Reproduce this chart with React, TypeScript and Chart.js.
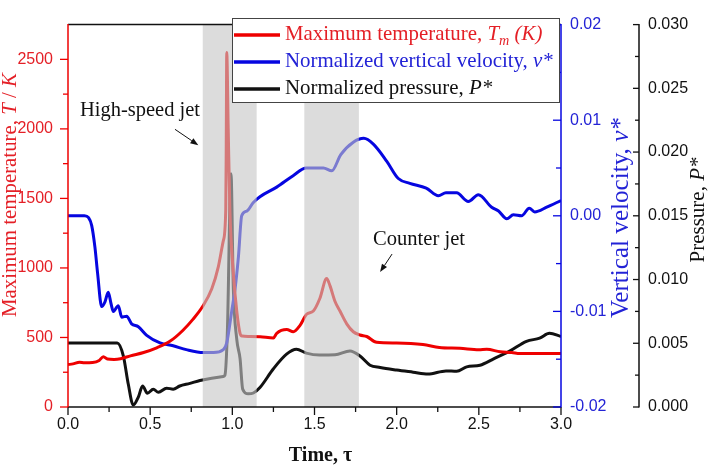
import React, { useEffect, useRef } from 'react';
import { Chart, registerables } from 'chart.js';

Chart.register(...registerables);

// ---------- data ----------
const tauTemp = [0, 0.03, 0.07, 0.1, 0.15, 0.19, 0.215, 0.24, 0.28, 0.32, 0.38, 0.46, 0.54, 0.62, 0.7, 0.76, 0.82, 0.875, 0.915, 0.945, 0.96, 0.963, 0.966, 0.975, 0.985, 1.006, 1.027, 1.047, 1.06, 1.1, 1.17, 1.25, 1.27, 1.331, 1.371, 1.412, 1.452, 1.493, 1.533, 1.574, 1.594, 1.625, 1.655, 1.696, 1.736, 1.777, 1.818, 1.878, 2.0, 2.16, 2.26, 2.385, 2.5, 2.548, 2.63, 2.7, 2.75, 3.0];
const tempK = [305, 310, 322, 318, 320, 335, 362, 345, 342, 347, 368, 392, 426, 472, 552, 630, 724, 850, 1010, 1195, 1420, 1900, 2550, 2000, 1420, 965, 690, 530, 510, 507, 505, 497, 530, 557, 541, 587, 667, 690, 782, 924, 873, 759, 690, 598, 541, 518, 507, 465, 460, 449, 428, 422, 412, 415, 397, 392, 385, 385];

const tauVel = [0, 0.1, 0.125, 0.144, 0.164, 0.18, 0.205, 0.225, 0.245, 0.262, 0.276, 0.306, 0.327, 0.357, 0.387, 0.428, 0.479, 0.56, 0.64, 0.72, 0.824, 0.884, 0.945, 0.966, 0.996, 1.017, 1.037, 1.057, 1.088, 1.128, 1.168, 1.27, 1.37, 1.45, 1.554, 1.605, 1.66, 1.736, 1.8, 1.858, 1.94, 2.01, 2.08, 2.18, 2.254, 2.3, 2.365, 2.436, 2.497, 2.578, 2.62, 2.67, 2.71, 2.76, 2.807, 2.84, 2.913, 3.0];
const velStar = [0, 0, -0.0002, -0.001, -0.0033, -0.006, -0.0095, -0.009, -0.008, -0.0092, -0.01, -0.0094, -0.0106, -0.0105, -0.0113, -0.0116, -0.0125, -0.0133, -0.0136, -0.014, -0.0143, -0.0143, -0.014, -0.0133, -0.01, -0.0076, -0.0043, 0, 0.0005, 0.0014, 0.002, 0.003, 0.0042, 0.005, 0.005, 0.0047, 0.0064, 0.0077, 0.0081, 0.0075, 0.0057, 0.0039, 0.0034, 0.0029, 0.0021, 0.0024, 0.0024, 0.0015, 0.0022, 0.0009, 0.0005, -0.0003, 0.0001, 0, 0.0008, 0.0004, 0.0009, 0.0016];

const tauPres = [0, 0.3, 0.337, 0.367, 0.397, 0.428, 0.454, 0.483, 0.519, 0.55, 0.6, 0.64, 0.68, 0.742, 0.803, 0.945, 0.955, 0.97, 0.992, 1.006, 1.027, 1.047, 1.063, 1.097, 1.128, 1.168, 1.25, 1.33, 1.39, 1.45, 1.53, 1.625, 1.716, 1.777, 1.838, 1.9, 2.0, 2.1, 2.19, 2.3, 2.365, 2.426, 2.507, 2.59, 2.69, 2.79, 2.87, 2.93, 3.0];
const presStar = [0.00503, 0.00503, 0.004, 0.00178, 0.00015, 0.00078, 0.00165, 0.00108, 0.0014, 0.00115, 0.00148, 0.0014, 0.00165, 0.00185, 0.00208, 0.0024, 0.0025, 0.006, 0.0183, 0.0093, 0.0053, 0.0038, 0.0014, 0.00103, 0.0011, 0.00153, 0.003, 0.00415, 0.00453, 0.00423, 0.00408, 0.0041, 0.0044, 0.004, 0.00328, 0.0031, 0.0029, 0.00273, 0.00258, 0.00283, 0.0028, 0.00315, 0.00328, 0.00378, 0.0044, 0.00515, 0.0054, 0.00578, 0.00553];

const bandStart = [0.82, 1.438];
const bandEnd = [1.148, 1.77];

const xMajor = [0, 0.5, 1, 1.5, 2, 2.5, 3];
const tempMajor = [0, 500, 1000, 1500, 2000, 2500];
const velMajor = [-0.02, -0.01, 0, 0.01, 0.02];
const presMajor = [0, 0.005, 0.01, 0.015, 0.02, 0.025, 0.03];

// annotation anchors (data coords: tau, T)
const hsjText = [0.438, 2132];
const hsjArrow = [0.651, 1997, 0.793, 1883];
const cjText = [2.136, 1204];
const cjArrow = [1.972, 1100, 1.899, 970];

// ---------- style ----------
const SERIF = "'Liberation Serif', 'Times New Roman', Times, serif";
const SANS = "'Liberation Sans', Arial, Helvetica, sans-serif";
const RED_LINE = '#ee0000';
const RED_TEXT = '#e41f26';
const BLUE_LINE = '#0606e0';
const BLUE_TEXT = '#2323d6';
const DARK = '#111111';

type Seg = { t: string; it?: boolean; sub?: boolean; bold?: boolean };

function segFont(s: Seg, size: number) {
  const sz = s.sub ? size * 0.68 : size;
  return `${s.it ? 'italic ' : ''}${s.bold ? 'bold ' : ''}${sz}px ${SERIF}`;
}
function segsWidth(ctx: CanvasRenderingContext2D, segs: Seg[], size: number) {
  let w = 0;
  for (const s of segs) {
    ctx.font = segFont(s, size);
    w += ctx.measureText(s.t).width;
  }
  return w;
}
function drawSegs(ctx: CanvasRenderingContext2D, segs: Seg[], x: number, y: number, size: number, color: string) {
  ctx.fillStyle = color;
  ctx.textBaseline = 'middle';
  ctx.textAlign = 'left';
  let cx = x;
  for (const s of segs) {
    ctx.font = segFont(s, size);
    ctx.fillText(s.t, cx, s.sub ? y + size * 0.3 : y);
    cx += ctx.measureText(s.t).width;
  }
}
function fit(ctx: CanvasRenderingContext2D, segs: Seg[], target: number) {
  return (20 * target) / segsWidth(ctx, segs, 20);
}
function rotTitle(ctx: CanvasRenderingContext2D, segs: Seg[], cx: number, cy: number, size: number, color: string) {
  const w = segsWidth(ctx, segs, size);
  ctx.save();
  ctx.translate(cx, cy);
  ctx.rotate(-Math.PI / 2);
  drawSegs(ctx, segs, -w / 2, 0, size, color);
  ctx.restore();
}
function arrow(ctx: CanvasRenderingContext2D, x0: number, y0: number, x1: number, y1: number) {
  ctx.save();
  ctx.strokeStyle = '#111';
  ctx.fillStyle = '#111';
  ctx.lineWidth = 1;
  const a = Math.atan2(y1 - y0, x1 - x0);
  const L = 8;
  const bx = x1 - L * Math.cos(a);
  const by = y1 - L * Math.sin(a);
  ctx.beginPath();
  ctx.moveTo(x0, y0);
  ctx.lineTo(bx, by);
  ctx.stroke();
  ctx.beginPath();
  ctx.moveTo(x1, y1);
  ctx.lineTo(bx + 3 * Math.sin(a), by - 3 * Math.cos(a));
  ctx.lineTo(bx - 3 * Math.sin(a), by + 3 * Math.cos(a));
  ctx.closePath();
  ctx.fill();
  ctx.restore();
}
function minors(major: number[]) {
  const out: number[] = [];
  for (let i = 0; i < major.length - 1; i++) out.push((major[i] + major[i + 1]) / 2);
  return out;
}

const decor = {
  id: 'decor',
  afterDatasetsDraw(chart: any) {
    const { ctx, chartArea, scales } = chart;
    ctx.save();
    ctx.fillStyle = 'rgba(197,197,197,0.61)';
    for (let i = 0; i < bandStart.length; i++) {
      const x0 = scales.x.getPixelForValue(bandStart[i]);
      const x1 = scales.x.getPixelForValue(bandEnd[i]);
      ctx.fillRect(x0, chartArea.top, x1 - x0, chartArea.bottom - chartArea.top);
    }
    ctx.restore();
  },
  afterDraw(chart: any) {
    const { ctx, chartArea: ca, scales } = chart;
    const { x, y, y1, y2 } = scales;
    const L = ca.left, R = ca.right, T = ca.top, B = ca.bottom;
    const p2 = y2.left;
    ctx.save();
    ctx.lineCap = 'butt';
    const line = (ax: number, ay: number, bx: number, by: number, c: string, w = 1.5) => {
      ctx.strokeStyle = c;
      ctx.lineWidth = w;
      ctx.beginPath();
      ctx.moveTo(ax, ay);
      ctx.lineTo(bx, by);
      ctx.stroke();
    };
    line(L, T, R, T, DARK);
    line(L, B, R, B, DARK);
    line(L, T - 0.5, L, B + 0.5, RED_LINE);
    line(R, T - 0.5, R, B + 0.5, BLUE_LINE);
    line(p2, T - 0.5, p2, B + 0.5, DARK);
    for (const v of xMajor) { const px = x.getPixelForValue(v); line(px, B, px, B + 8, DARK, 1.3); }
    for (const v of minors(xMajor)) { const px = x.getPixelForValue(v); line(px, B, px, B + 5, DARK, 1.3); }
    for (const v of tempMajor) { const py = y.getPixelForValue(v); line(L - 8, py, L, py, RED_LINE, 1.3); }
    for (const v of minors(tempMajor)) { const py = y.getPixelForValue(v); line(L - 5, py, L, py, RED_LINE, 1.3); }
    for (const v of velMajor) { const py = y1.getPixelForValue(v); line(R - 8, py, R, py, BLUE_LINE, 1.3); }
    for (const v of minors(velMajor)) { const py = y1.getPixelForValue(v); line(R - 5, py, R, py, BLUE_LINE, 1.3); }
    for (const v of presMajor) { const py = y2.getPixelForValue(v); line(p2 - 6, py, p2, py, DARK, 1.3); }
    for (const v of minors(presMajor)) { const py = y2.getPixelForValue(v); line(p2 - 4, py, p2, py, DARK, 1.3); }

    // axis titles
    const leftT: Seg[] = [{ t: 'Maximum temperature, ' }, { t: 'T', it: true }, { t: ' / ' }, { t: 'K', it: true }];
    const lsz = fit(ctx, leftT, 244);
    rotTitle(ctx, leftT, 11, 195, lsz, RED_TEXT);
    const velT: Seg[] = [{ t: 'Vertical velocity, ' }, { t: 'v*', it: true }];
    const vsz = fit(ctx, velT, 200);
    const vw = segsWidth(ctx, velT, vsz);
    rotTitle(ctx, velT, 621, 318 - vw / 2, vsz, BLUE_TEXT);
    const presT: Seg[] = [{ t: 'Pressure, ' }, { t: 'P*', it: true }];
    const psz = 21;
    rotTitle(ctx, presT, 698, 210, psz, DARK);
    const timeT: Seg[] = [{ t: 'Time, \u03c4', bold: true }];
    const tw = segsWidth(ctx, timeT, 20);
    drawSegs(ctx, timeT, (L + R) / 2 + 6 - tw / 2, 456, 20, DARK);

    // legend
    const bx0 = 232, by0 = 18, bx1 = 560, by1 = 103;
    ctx.fillStyle = '#ffffff';
    ctx.fillRect(bx0, by0, bx1 - bx0, by1 - by0);
    ctx.strokeStyle = '#444';
    ctx.lineWidth = 1;
    ctx.strokeRect(bx0 + 0.5, by0 + 0.5, bx1 - bx0 - 1, by1 - by0 - 1);
    const rows: { segs: Seg[]; c: string; lc: string; y: number }[] = [
      { segs: [{ t: 'Maximum temperature, ' }, { t: 'T', it: true }, { t: 'm', it: true, sub: true }, { t: ' (K)', it: true }], c: RED_TEXT, lc: RED_LINE, y: 35 },
      { segs: [{ t: 'Normalized vertical velocity, ' }, { t: 'v*', it: true }], c: BLUE_TEXT, lc: BLUE_LINE, y: 62 },
      { segs: [{ t: 'Normalized pressure, ' }, { t: 'P*', it: true }], c: DARK, lc: DARK, y: 89 },
    ];
    const gsz = fit(ctx, rows[1].segs, 268);
    for (const r of rows) {
      line(234, r.y, 280, r.y, r.lc, 3.5);
      drawSegs(ctx, r.segs, 285, r.y, gsz, r.c);
    }

    // annotations
    const hs: Seg[] = [{ t: 'High-speed jet' }];
    const hsz = fit(ctx, hs, 120);
    const hw = segsWidth(ctx, hs, hsz);
    drawSegs(ctx, hs, x.getPixelForValue(hsjText[0]) - hw / 2, y.getPixelForValue(hsjText[1]), hsz, DARK);
    arrow(ctx, x.getPixelForValue(hsjArrow[0]), y.getPixelForValue(hsjArrow[1]), x.getPixelForValue(hsjArrow[2]), y.getPixelForValue(hsjArrow[3]));
    const cj: Seg[] = [{ t: 'Counter jet' }];
    const csz = fit(ctx, cj, 92);
    const cw = segsWidth(ctx, cj, csz);
    drawSegs(ctx, cj, x.getPixelForValue(cjText[0]) - cw / 2, y.getPixelForValue(cjText[1]), csz, DARK);
    arrow(ctx, x.getPixelForValue(cjArrow[0]), y.getPixelForValue(cjArrow[1]), x.getPixelForValue(cjArrow[2]), y.getPixelForValue(cjArrow[3]));
    ctx.restore();
  },
};

function fmt(v: number, d: number) {
  if (Math.abs(v) < 1e-12) return (0).toFixed(d);
  return v.toFixed(d);
}
const setTicks = (vals: number[]) => (s: any) => { s.ticks = vals.map((v) => ({ value: v })); };

export default function App() {
  const ref = useRef<HTMLCanvasElement | null>(null);
  useEffect(() => {
    if (!ref.current) return;
    const ticksFont = { family: SANS, size: 16 };
    const chart = new Chart(ref.current, {
      type: 'line',
      data: {
        datasets: [
          {
            label: 'Maximum temperature',
            data: tauTemp.map((t, i) => ({ x: t, y: tempK[i] })),
            yAxisID: 'y',
            borderColor: RED_LINE,
            borderWidth: 3,
            pointRadius: 0,
            cubicInterpolationMode: 'monotone',
          },
          {
            label: 'Normalized vertical velocity',
            data: tauVel.map((t, i) => ({ x: t, y: velStar[i] })),
            yAxisID: 'y1',
            borderColor: BLUE_LINE,
            borderWidth: 3,
            pointRadius: 0,
            cubicInterpolationMode: 'monotone',
          },
          {
            label: 'Normalized pressure',
            data: tauPres.map((t, i) => ({ x: t, y: presStar[i] })),
            yAxisID: 'y2',
            borderColor: DARK,
            borderWidth: 3,
            pointRadius: 0,
            cubicInterpolationMode: 'monotone',
          },
        ],
      },
      options: {
        responsive: false,
        animation: false,
        devicePixelRatio: 1,
        layout: { padding: { top: 7, left: 0, right: 0, bottom: 0 } },
        plugins: { legend: { display: false }, tooltip: { enabled: false } },
        scales: {
          x: {
            type: 'linear',
            min: 0,
            max: 3,
            afterBuildTicks: setTicks(xMajor),
            afterFit: (s: any) => { s.height = 60; },
            grid: { display: false, drawTicks: false },
            border: { display: false },
            ticks: { padding: 8, color: DARK, font: ticksFont, maxRotation: 0, autoSkip: false, callback: (v: any) => fmt(Number(v), 1) },
          },
          y: {
            position: 'left',
            min: 0,
            max: 2750,
            afterBuildTicks: setTicks(tempMajor),
            afterFit: (s: any) => { s.width = 68; },
            grid: { display: false, drawTicks: false },
            border: { display: false },
            ticks: { padding: 15, color: RED_TEXT, font: ticksFont, autoSkip: false, callback: (v: any) => String(Math.round(Number(v))) },
          },
          y1: {
            position: 'right',
            min: -0.02,
            max: 0.02,
            weight: 0,
            afterBuildTicks: setTicks(velMajor),
            afterFit: (s: any) => { s.width = 78; },
            grid: { display: false, drawTicks: false },
            border: { display: false },
            ticks: { padding: 9, color: BLUE_TEXT, font: ticksFont, autoSkip: false, callback: (v: any) => fmt(Number(v), 2) },
          },
          y2: {
            position: 'right',
            min: 0,
            max: 0.03,
            weight: 1,
            afterBuildTicks: setTicks(presMajor),
            afterFit: (s: any) => { s.width = 69; },
            grid: { display: false, drawTicks: false },
            border: { display: false },
            ticks: { padding: 9, color: DARK, font: ticksFont, autoSkip: false, callback: (v: any) => fmt(Number(v), 3) },
          },
        },
      },
      plugins: [decor],
    } as any);
    return () => chart.destroy();
  }, []);
  return (
    <div style={{ position: 'fixed', left: 0, top: 0, width: 708, height: 467, background: '#fff' }}>
      <canvas ref={ref} width={708} height={467} style={{ display: 'block', width: 708, height: 467 }} />
    </div>
  );
}
